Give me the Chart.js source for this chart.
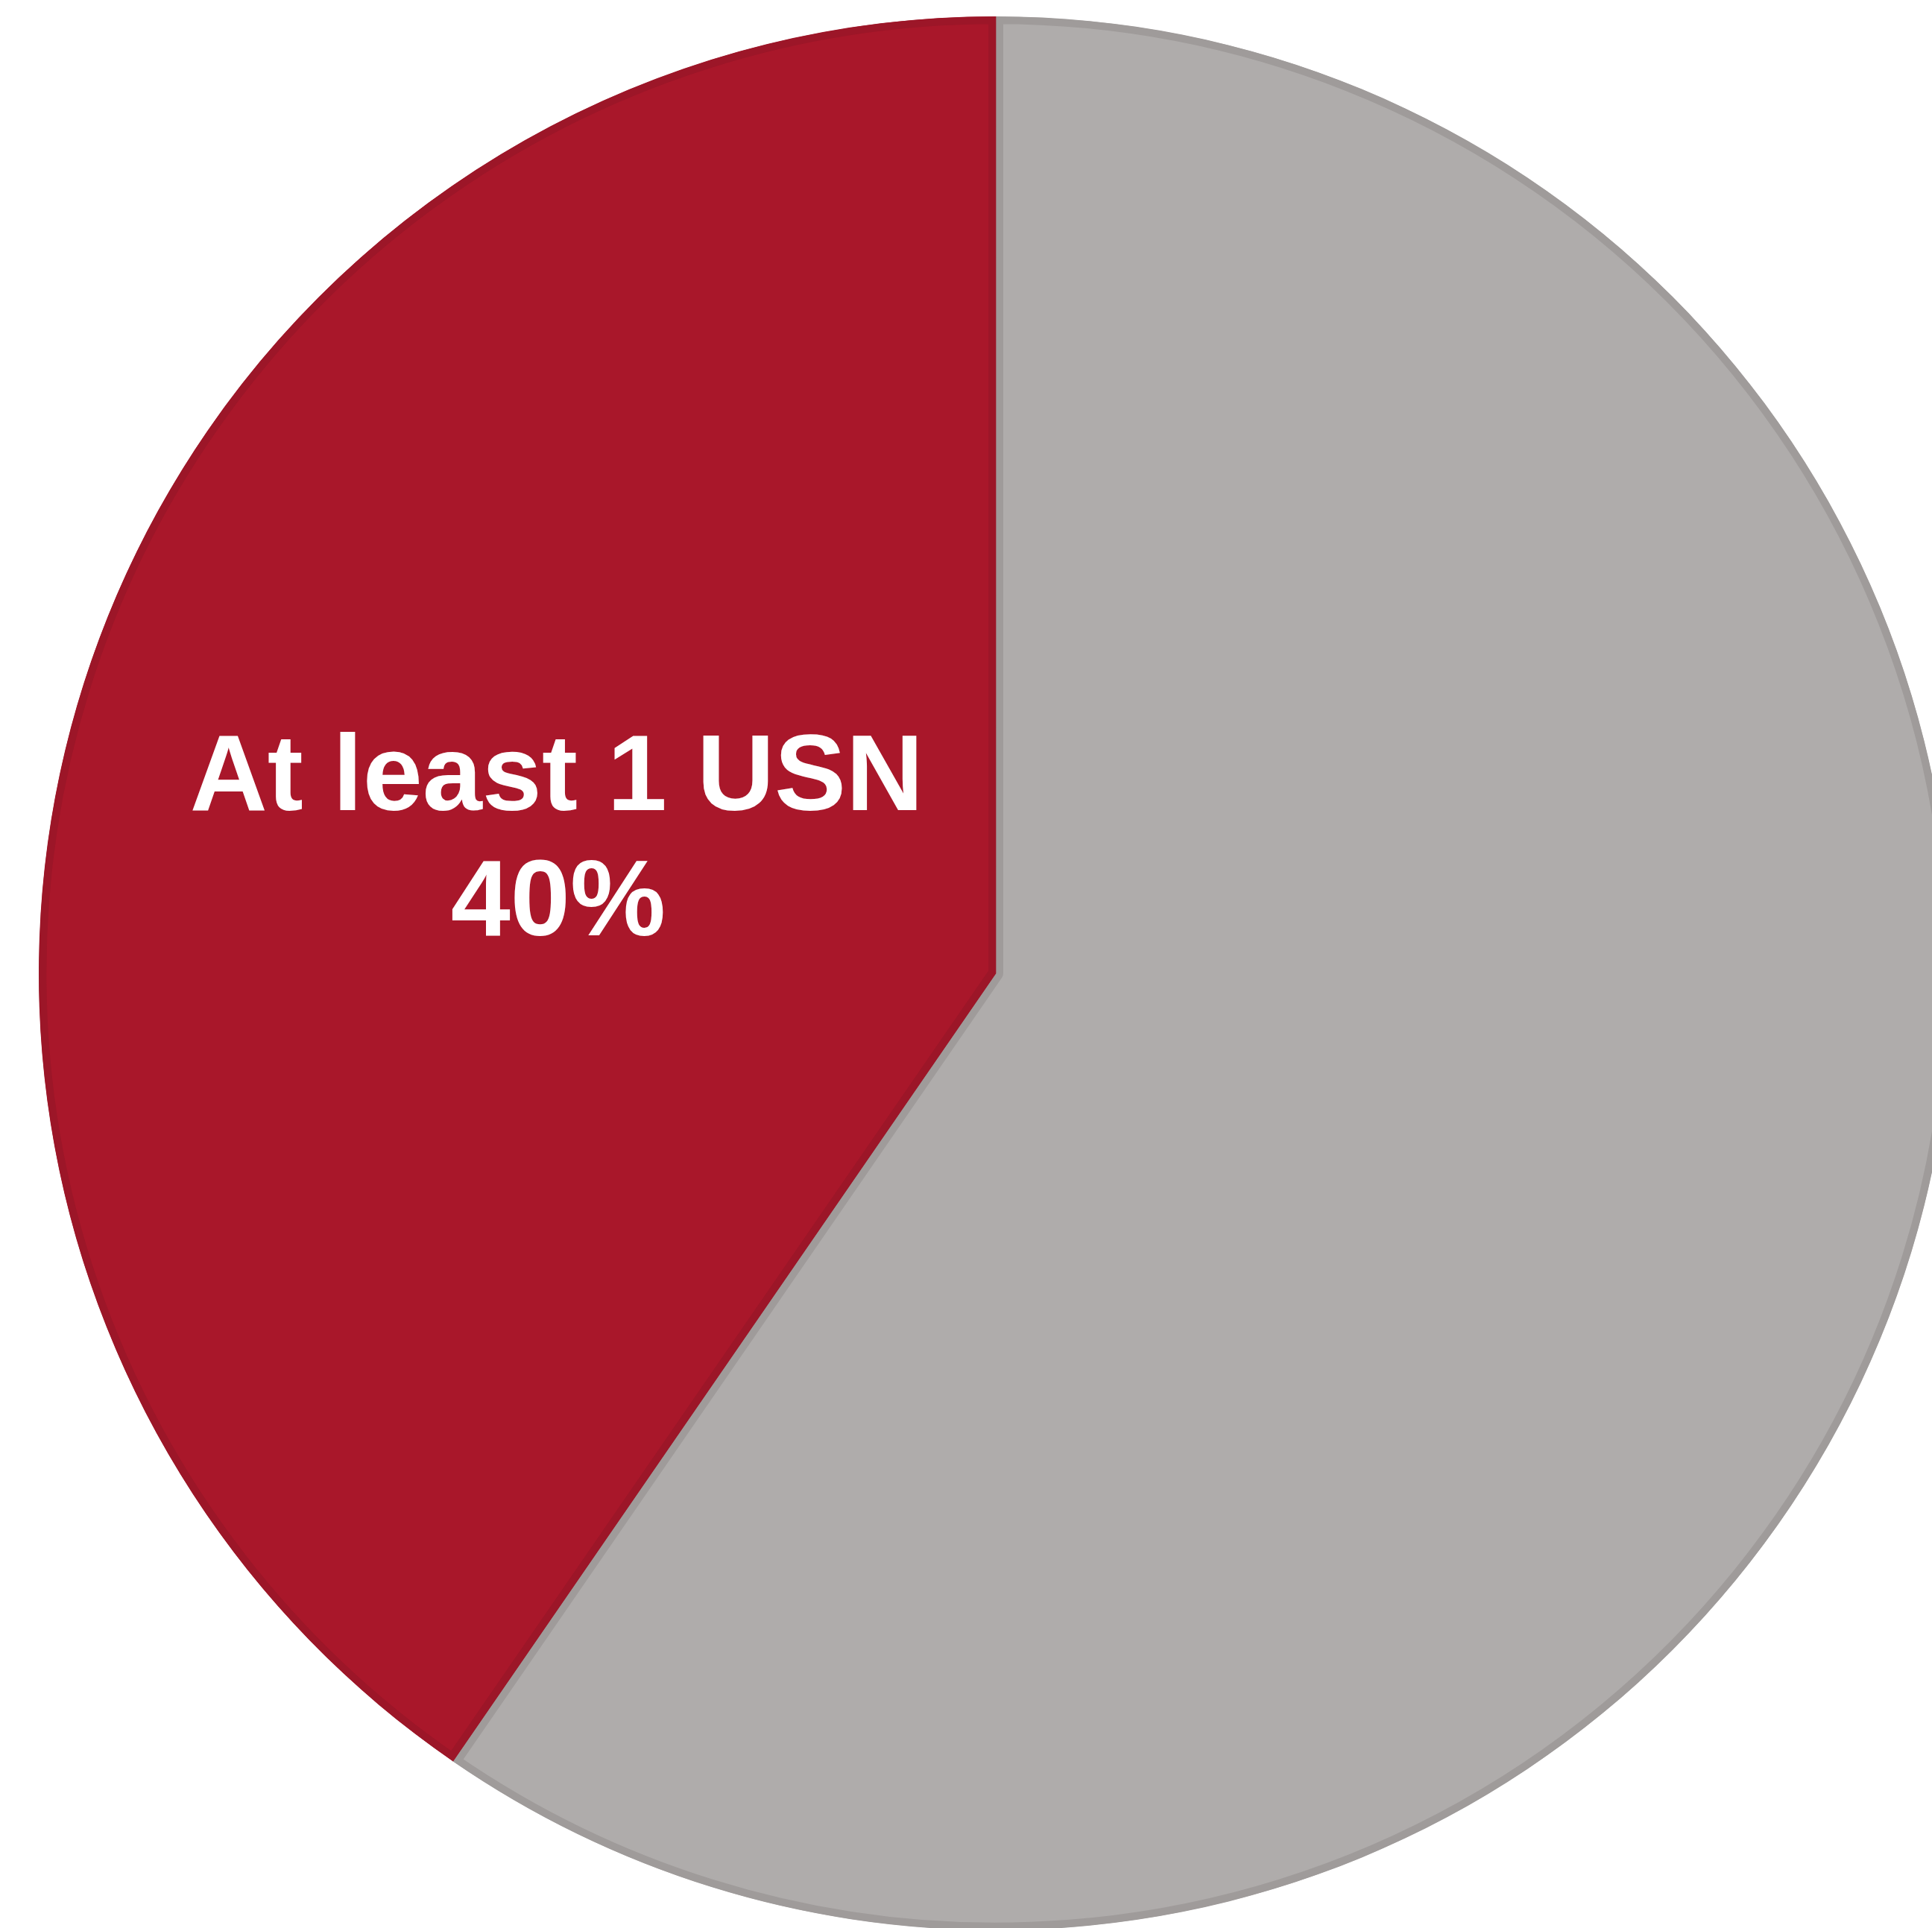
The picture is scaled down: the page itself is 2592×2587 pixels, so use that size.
<!DOCTYPE html>
<html lang="en">
<head>
    <meta charset="UTF-8">
    <title>At least 1 USN</title>
    <script src="https://cdn.jsdelivr.net/npm/chart.js@4/dist/chart.umd.min.js"></script>
    <style>
        html, body { margin: 0; padding: 0; background: #ffffff; overflow: hidden; }
        #pie { display: block; }
    </style>
</head>
<body>
    <canvas id="pie" width="2592" height="2587"></canvas>

    <script>
        // data (red slice is a little over 40%)
        const categories = ["None", "At least 1 USN"];
        const shares = [59.6, 40.4];
        const fillColors = ["#afacab", "#a9172a"];
        const edgeColors = ["#9f9b9a", "#9c1628"];
        const labelLines = ["At least 1 USN", "40%"];

        const labelFont = "bold 144px 'Liberation Sans'";

        // white label on the red slice
        const sliceLabel = {
            id: "sliceLabel",
            afterDatasetsDraw(chart) {
                const arc = chart.getDatasetMeta(0).data[1];
                const p = arc.getProps(["x", "y", "startAngle", "endAngle", "outerRadius"], true);
                const mid = (p.startAngle + p.endAngle) / 2;
                const r = p.outerRadius * 0.483;
                const cx = p.x + Math.cos(mid) * r;
                const cy = p.y + Math.sin(mid) * r;
                const ctx = chart.ctx;
                ctx.save();
                ctx.fillStyle = "#ffffff";
                ctx.font = labelFont + ", Arial, sans-serif";
                ctx.textAlign = "center";
                ctx.textBaseline = "alphabetic";
                ctx.fillText(labelLines[0], cx + 3, cy - 35);
                ctx.fillText(labelLines[1], cx + 5, cy + 133);
                ctx.restore();
            }
        };

        function drawPie() {
            return new Chart(document.getElementById("pie"), {
                type: "pie",
                data: {
                    labels: categories,
                    datasets: [{
                        data: shares,
                        backgroundColor: fillColors,
                        borderColor: edgeColors,
                        borderWidth: 10,
                        borderAlign: "inner",
                        hoverOffset: 0
                    }]
                },
                options: {
                    responsive: false,
                    devicePixelRatio: 1,
                    animation: false,
                    radius: 1284,
                    layout: { padding: { left: 80, top: 25, right: 0, bottom: 0 } },
                    plugins: {
                        legend: { display: false },
                        tooltip: { enabled: false }
                    },
                    events: []
                },
                plugins: [sliceLabel]
            });
        }

        document.fonts.load(labelFont).then(drawPie, drawPie);
    </script>
</body>
</html>
